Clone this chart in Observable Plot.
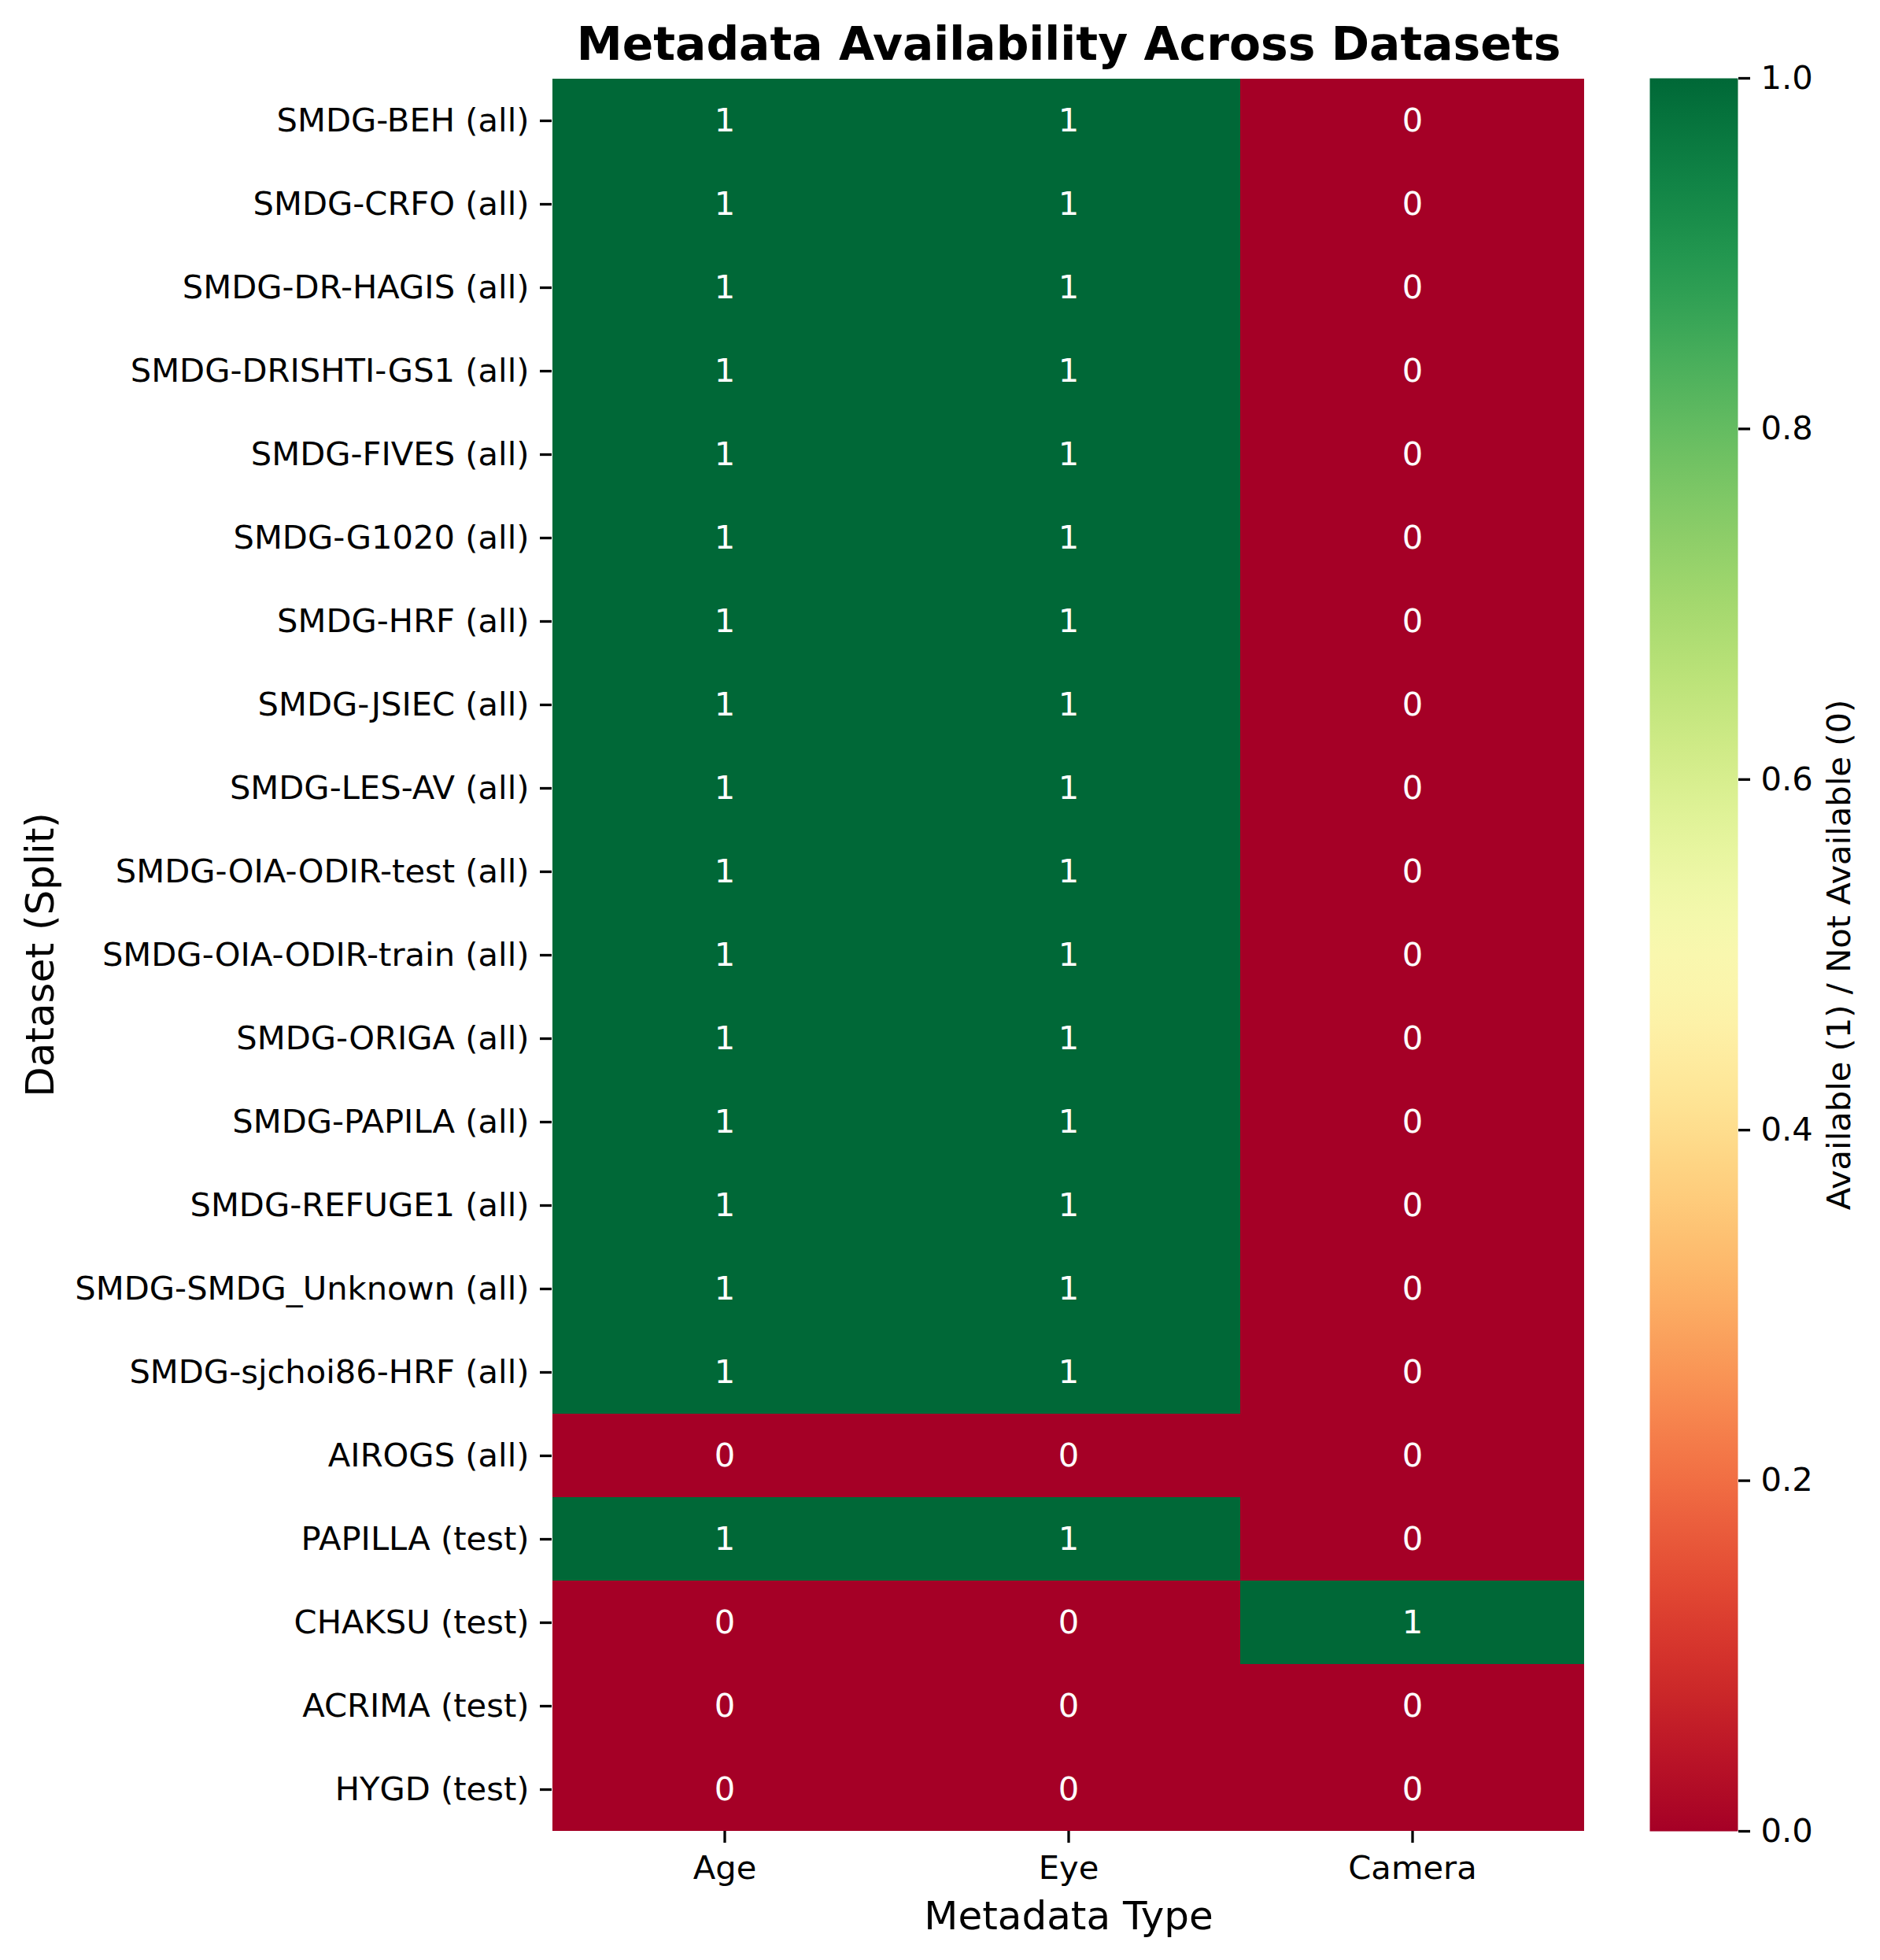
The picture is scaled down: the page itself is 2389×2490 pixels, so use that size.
<!DOCTYPE html>
<html>
<head>
<meta charset="utf-8">
<script src="https://cdn.jsdelivr.net/npm/d3@7"></script>
<script src="https://cdn.jsdelivr.net/npm/@observablehq/plot@0.6"></script>
<style>
  html, body { margin: 0; padding: 0; background: white; overflow: hidden; }
  #wrap { position: relative; width: 2389px; height: 2490px; }
  #wrap svg { position: absolute; left: 0; top: 0; max-width: none; }
</style>
</head>
<body>
<div id="wrap"></div>
<script>
const titleText = "Metadata Availability Across Datasets";
const xLabel = "Metadata Type";
const yLabel = "Dataset (Split)";
const colorbarLabel = "Available (1) / Not Available (0)";

const datasets = [
  "SMDG-BEH (all)", "SMDG-CRFO (all)", "SMDG-DR-HAGIS (all)", "SMDG-DRISHTI-GS1 (all)",
  "SMDG-FIVES (all)", "SMDG-G1020 (all)", "SMDG-HRF (all)", "SMDG-JSIEC (all)",
  "SMDG-LES-AV (all)", "SMDG-OIA-ODIR-test (all)", "SMDG-OIA-ODIR-train (all)", "SMDG-ORIGA (all)",
  "SMDG-PAPILA (all)", "SMDG-REFUGE1 (all)", "SMDG-SMDG_Unknown (all)", "SMDG-sjchoi86-HRF (all)",
  "AIROGS (all)", "PAPILLA (test)", "CHAKSU (test)", "ACRIMA (test)", "HYGD (test)"
];
const metadataTypes = ["Age", "Eye", "Camera"];
const ageAvailable    = [1,1,1,1,1,1,1,1,1,1,1,1,1,1,1,1,0,1,0,0,0];
const eyeAvailable    = [1,1,1,1,1,1,1,1,1,1,1,1,1,1,1,1,0,1,0,0,0];
const cameraAvailable = [0,0,0,0,0,0,0,0,0,0,0,0,0,0,0,0,0,0,1,0,0];
const colorbarTicks = [0, 0.2, 0.4, 0.6, 0.8, 1.0];

const seriesByType = {Age: ageAvailable, Eye: eyeAvailable, Camera: cameraAvailable};
const table = datasets.flatMap((d, i) =>
  metadataTypes.map(m => ({dataset: d, meta: m, value: seriesByType[m][i]})));

const W = 2389, H = 2490;
const FONT = "DejaVu Sans, Liberation Sans, sans-serif";
const fs = 41.67;

const colorOpts = {type: "linear", scheme: "RdYlGn", domain: [0, 1]};

const main = Plot.plot({
  width: W, height: H,
  marginLeft: 701, marginRight: 375, marginTop: 99, marginBottom: 164,
  style: {fontFamily: FONT, fontSize: fs + "px", color: "black", background: "transparent", overflow: "visible"},
  x: {type: "band", domain: metadataTypes, padding: 0, label: null},
  y: {type: "band", domain: datasets, padding: 0, label: null},
  color: colorOpts,
  marks: [
    Plot.cell(table, {x: "meta", y: "dataset", fill: "value", shapeRendering: "crispEdges"}),
    Plot.text(table, {x: "meta", y: "dataset", text: d => String(d.value), fill: "white", fontSize: fs}),
    Plot.axisX({anchor: "bottom", tickSize: 15, tickPadding: 16, strokeWidth: 3.3, fontSize: fs, label: null}),
    Plot.axisY({anchor: "left", tickSize: 15, tickPadding: 14, strokeWidth: 3.3, fontSize: fs, label: null}),
    Plot.text([titleText], {text: d => d, frameAnchor: "top", lineAnchor: "middle", textAnchor: "middle",
      dy: -42.6, fontSize: 58.3, fontWeight: "bold"}),
    Plot.text([xLabel], {text: d => d, frameAnchor: "bottom", lineAnchor: "middle", textAnchor: "middle",
      dy: 108, fontSize: 50}),
    Plot.text([yLabel], {text: d => d, frameAnchor: "left", lineAnchor: "middle", textAnchor: "middle",
      dx: 51.5 - 701, rotate: -90, fontSize: 50})
  ]
});

const colorScale = main.scale("color");

const cbar = Plot.plot({
  width: W, height: H,
  marginLeft: 2096, marginRight: 181, marginTop: 99, marginBottom: 164,
  style: {fontFamily: FONT, fontSize: fs + "px", color: "black", background: "transparent", overflow: "visible"},
  y: {type: "linear", domain: [0, 1], label: null},
  marks: [
    Plot.frame({fill: "url(#cbgrad)", stroke: null}),
    Plot.axisY({anchor: "right", ticks: colorbarTicks, tickFormat: d3.format(".1f"), tickSize: 15, tickPadding: 14,
      strokeWidth: 3.3, fontSize: fs, label: null}),
    Plot.text([colorbarLabel], {text: d => d, frameAnchor: "right", lineAnchor: "middle", textAnchor: "middle",
      dx: 2337 - 2208, rotate: -90, fontSize: fs})
  ]
});

// gradient definition for the colorbar, built from the main plot's color scale
const stops = d3.range(0, 1.0001, 0.02);
const defs = d3.select(cbar).insert("defs", ":first-child");
const grad = defs.append("linearGradient")
  .attr("id", "cbgrad").attr("x1", 0).attr("y1", 1).attr("x2", 0).attr("y2", 0);
grad.selectAll("stop").data(stops).join("stop")
  .attr("offset", d => d)
  .attr("stop-color", d => colorScale.apply(d));

const wrap = document.getElementById("wrap");
wrap.appendChild(main);
wrap.appendChild(cbar);
</script>
</body>
</html>
